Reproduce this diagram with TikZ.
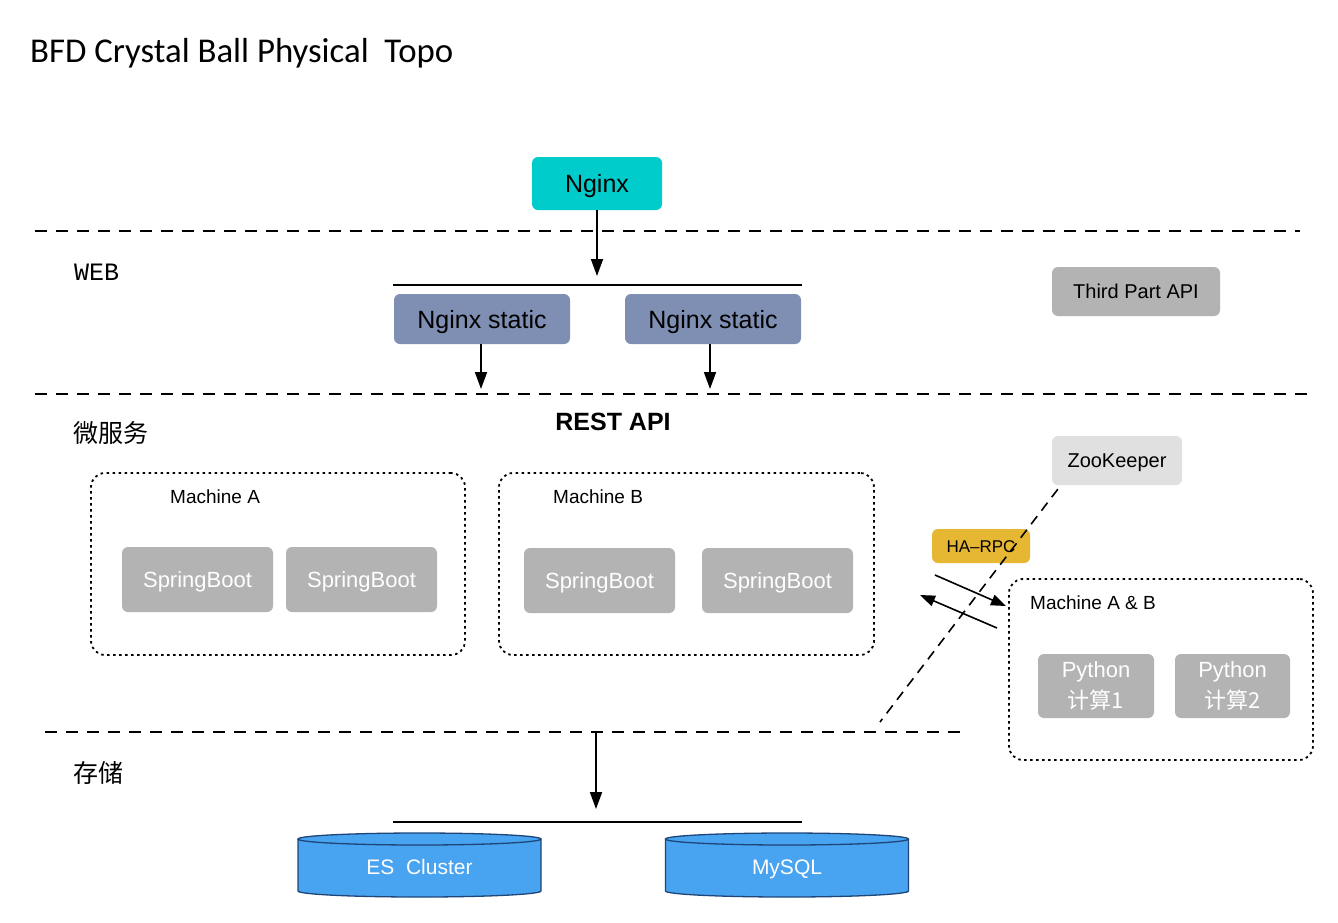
\documentclass[tikz,border=0pt]{standalone}
\usepackage{fontspec}
\setmainfont{Liberation Sans}
\newfontfamily\cjk{Noto Sans CJK SC}
\newfontfamily\titlefont{Carlito}
\newfontfamily\webfont{Liberation Mono}
\usetikzlibrary{arrows.meta}
\definecolor{nginxc}{RGB}{0,204,204}
\definecolor{staticc}{RGB}{127,143,180}
\definecolor{grayc}{RGB}{179,179,179}
\definecolor{zkc}{RGB}{224,224,224}
\definecolor{rpcc}{RGB}{230,183,50}
\definecolor{dbc}{RGB}{72,163,240}
\definecolor{dbline}{RGB}{30,70,120}
\newcommand\myfs[2]{\fontsize{#1}{#2}\selectfont}
\tikzset{
  box/.style={rounded corners=6pt, inner sep=0pt, align=center},
  capc/.style={text height=#1, text depth=0pt},
  mbox/.style={draw, line width=1.8pt, dash pattern=on 2.5pt off 3.5pt, rounded corners=14pt, inner sep=0pt},
  sepline/.style={line width=1.8pt, dash pattern=on 12pt off 9pt},
  arr/.style={line width=1.8pt, -{Triangle[length=17pt,width=12pt]}},
  sarr/.style={line width=1.6pt, -{Triangle[length=15pt,width=11pt]}},
  bus/.style={line width=1.8pt},
  lbl/.style={inner sep=0pt, anchor=west},
}
\begin{document}
\begin{tikzpicture}[x=1pt,y=-1pt]
\useasboundingbox[fill=white] (0,0) rectangle (1338,922);

% title and section labels
\node[lbl] (title) at (30,53) {\titlefont\myfs{34.8}{40}BFD Crystal Ball Physical\ \ Topo};
\node[lbl] (web) at (74,272) {\webfont\myfs{25}{28}WEB};
\node[lbl] (ms) at (73,433) {\cjk\myfs{25}{28}微服务};
\node[lbl] (st) at (73,773) {\cjk\myfs{25}{28}存储};

% separators
\coordinate (s1l) at (35,231); \coordinate (s1r) at (1300,231);
\coordinate (s2l) at (35,394); \coordinate (s2r) at (1308,394);
\coordinate (s3l) at (45,732); \coordinate (s3r) at (965,732);
\draw[sepline] (s1l) -- (s1r);
\draw[sepline] (s2l) -- (s2r);
\draw[sepline] (s3l) -- (s3r);

% web layer
\node[box, capc=18pt, fill=nginxc, minimum width=130pt, minimum height=53pt, font=\myfs{25}{28}] (nginx) at (597,183.5) {Nginx};
\coordinate (bus1l) at (393,285); \coordinate (bus1r) at (802,285);
\coordinate (bus1t) at (597,276);
\draw[bus] (bus1l) -- (bus1r);
\draw[arr] (nginx.south) -- (bus1t);
\node[box, capc=18pt, fill=staticc, minimum width=176pt, minimum height=50pt, font=\myfs{25}{28}] (ns1) at (482,319) {Nginx static};
\node[box, capc=18pt, fill=staticc, minimum width=176pt, minimum height=50pt, font=\myfs{25}{28}] (ns2) at (713,319) {Nginx static};
\coordinate (a1) at (481,389); \coordinate (a2) at (710,389);
\draw[arr] (ns1.south -| a1) -- (a1);
\draw[arr] (ns2.south -| a2) -- (a2);
\node[box, capc=14.4pt, fill=grayc, minimum width=168pt, minimum height=49pt, font=\myfs{20}{24}] (tpa) at (1136,291.5) {Third Part API};

% micro services
\node[inner sep=0pt, capc=18pt, font=\myfs{25}{28}\bfseries] (rest) at (613,421) {REST API};
\node[mbox, minimum width=374pt, minimum height=182pt] (ma) at (278,564) {};
\node[lbl] (mal) at (170,497) {\myfs{19}{22}Machine A};
\node[box, capc=15.8pt, fill=grayc, text=white, minimum width=151pt, minimum height=65pt, font=\myfs{22}{26}] (sb1) at (197.5,579.5) {SpringBoot};
\node[box, capc=15.8pt, fill=grayc, text=white, minimum width=151pt, minimum height=65pt, font=\myfs{22}{26}] (sb2) at (361.5,579.5) {SpringBoot};

\node[mbox, minimum width=375pt, minimum height=182pt] (mb) at (686.5,564) {};
\node[lbl] (mbl) at (553,497) {\myfs{19}{22}Machine B};
\node[box, capc=15.8pt, fill=grayc, text=white, minimum width=151pt, minimum height=65pt, font=\myfs{22}{26}] (sb3) at (599.5,580.5) {SpringBoot};
\node[box, capc=15.8pt, fill=grayc, text=white, minimum width=151pt, minimum height=65pt, font=\myfs{22}{26}] (sb4) at (777.5,580.5) {SpringBoot};

\node[box, capc=14.4pt, fill=zkc, minimum width=130pt, minimum height=49pt, font=\myfs{20}{24}] (zk) at (1117,460.5) {ZooKeeper};
\node[box, capc=12.2pt, fill=rpcc, minimum width=98pt, minimum height=34pt, font=\myfs{17}{20}] (rpc) at (981,546) {HA–RPC};

\node[mbox, minimum width=304pt, minimum height=181pt] (mab) at (1161,669.5) {};
\node[lbl] (mabl) at (1030,603) {\myfs{19}{22}Machine A \& B};
\node[box, fill=grayc, text=white, minimum width=116pt, minimum height=64pt, font=\myfs{22}{31}] (py1) at (1096,686) {Python\\{\cjk 计算1}};
\node[box, fill=grayc, text=white, minimum width=115pt, minimum height=64pt, font=\myfs{22}{31}] (py2) at (1232.5,686) {Python\\{\cjk 计算2}};

% zookeeper dashed link
\coordinate (zkend) at (880,722);
\draw[line width=1.6pt, dash pattern=on 10pt off 7pt] ([xshift=6pt,yshift=-4pt]zk.south west) -- (zkend);

% rpc arrows
\coordinate (r1s) at (935,575); \coordinate (r1e) at (1006,606);
\coordinate (r2s) at (997,628); \coordinate (r2e) at (920,595);
\draw[sarr] (r1s) -- (r1e);
\draw[sarr] (r2s) -- (r2e);

% storage
\coordinate (s3a) at (596,732); \coordinate (bus2t) at (596,809);
\draw[arr] (s3a) -- (bus2t);
\coordinate (bus2l) at (393,822); \coordinate (bus2r) at (802,822);
\draw[bus] (bus2l) -- (bus2r);

% cylinders
\foreach \cx in {419.5, 787}{
  \fill[dbc] (\cx-121.5,839) -- (\cx-121.5,891) arc[start angle=180,end angle=360,x radius=121.5pt,y radius=6pt] -- (\cx+121.5,839) -- cycle;
  \draw[dbline, line width=1.3pt] (\cx-121.5,839) -- (\cx-121.5,891) arc[start angle=180,end angle=360,x radius=121.5pt,y radius=6pt] -- (\cx+121.5,839);
  \draw[dbline, line width=1.3pt, fill=dbc] (\cx,839) ellipse[x radius=121.5pt, y radius=6pt];
}
\node[inner sep=0pt, capc=15.1pt, text=white, font=\myfs{21}{24}] (es) at (419.5,867) {ES\ \ Cluster};
\node[inner sep=0pt, capc=15.1pt, text=white, font=\myfs{21}{24}] (my) at (787,867) {MySQL};
\end{tikzpicture}
\end{document}
